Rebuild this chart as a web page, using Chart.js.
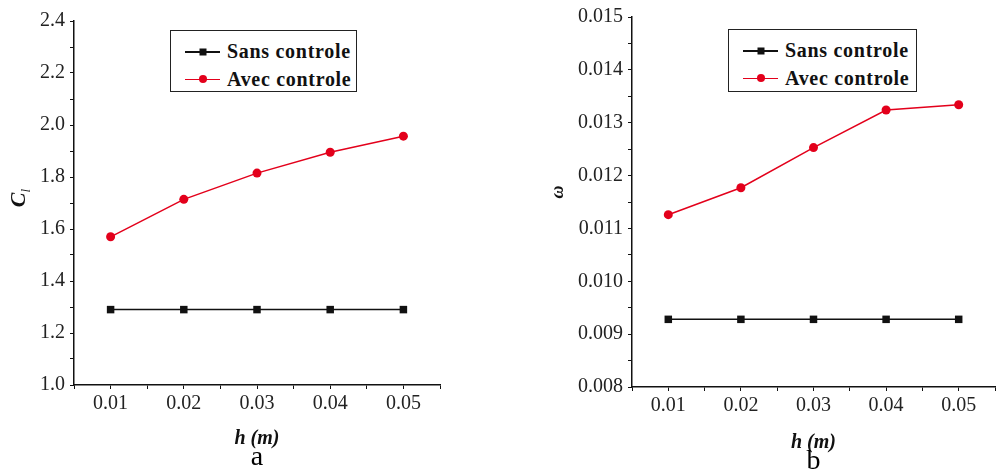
<!DOCTYPE html>
<html>
<head>
<meta charset="utf-8">
<script src="https://cdn.jsdelivr.net/npm/chart.js@4.4.0/dist/chart.umd.min.js"></script>
<style>
  html, body { margin: 0; padding: 0; background: #fff; }
  #wrap { position: relative; width: 998px; height: 472px; overflow: hidden; }
  canvas { position: absolute; top: 0; }
  .legend {
    position: absolute; border: 1.5px solid #222; background: #fff;
    font-family: "Liberation Serif", serif; font-weight: bold; font-size: 20px;
    letter-spacing: 0.7px; color: #111; box-sizing: border-box;
  }
  .legend .row { display: flex; align-items: center; height: 27.5px; }
  .legend .sample { position: relative; width: 35px; height: 1.5px; margin-right: 7px; }
  .legend .mk { position: absolute; left: 50%; top: 50%; transform: translate(-50%, -50%); }
</style>
</head>
<body>
<div id="wrap">
  <canvas id="chartA" width="445" height="472" style="left:0"></canvas>
  <canvas id="chartB" width="458" height="472" style="left:540px"></canvas>
  <div class="legend" id="legA" style="left:170px; top:30px; width:187px; height:62px; padding:7px 0 0 14px"></div>
  <div class="legend" id="legB" style="left:728px; top:29px; width:189px; height:63px; padding:7px 0 0 14px"></div>
</div>
<script>
// h values (m)
const hValues = [0.01, 0.02, 0.03, 0.04, 0.05];

// panel a : lift coefficient
const clSans = [1.29, 1.29, 1.29, 1.29, 1.29];
const clAvec = [1.57, 1.714, 1.815, 1.895, 1.957];

// panel b : omega
const omegaSans = [0.00928, 0.00928, 0.00928, 0.00928, 0.00928];
const omegaAvec = [0.01126, 0.01177, 0.01253, 0.01324, 0.01334];

const seriesNames = ['Sans controle', 'Avec controle'];
const xRange = [0.005, 0.055];
const clRange = [1.0, 2.4];
const omegaRange = [0.008, 0.015];

const SERIF = '"Liberation Serif", "Times New Roman", serif';
const BLACK = '#111';
const RED = '#e3001b';

// rotated y title with optional subscript
const yTitlePlugin = {
  id: 'yTitle',
  afterDraw(chart, args, opts) {
    if (!opts || !opts.text) return;
    const ctx = chart.ctx;
    const cy = (chart.chartArea.top + chart.chartArea.bottom) / 2 + opts.dy;
    ctx.save();
    ctx.translate(opts.x, cy);
    ctx.rotate(-Math.PI / 2);
    ctx.fillStyle = '#111';
    ctx.textBaseline = 'alphabetic';
    ctx.font = opts.font;
    const w = ctx.measureText(opts.text).width;
    let subW = 0;
    if (opts.sub) {
      ctx.font = opts.subFont;
      subW = ctx.measureText(opts.sub).width;
    }
    const x0 = -(w + subW) / 2;
    ctx.font = opts.font;
    ctx.fillText(opts.text, x0, 0);
    if (opts.sub) {
      ctx.font = opts.subFont;
      ctx.fillText(opts.sub, x0 + w, 5);
    }
    ctx.restore();
  }
};

function makeChart(id, sans, avec, yRange, yStep, yFmt, cfg) {
  const toPts = arr => hValues.map((h, i) => ({ x: h, y: arr[i] }));
  return new Chart(document.getElementById(id), {
    type: 'line',
    data: {
      datasets: [
        {
          label: seriesNames[0], data: toPts(sans),
          borderColor: BLACK, backgroundColor: BLACK, borderWidth: 1.5,
          pointStyle: 'rect', pointRadius: 5.3, pointBorderWidth: 0, tension: 0
        },
        {
          label: seriesNames[1], data: toPts(avec),
          borderColor: RED, backgroundColor: RED, borderWidth: 1.5,
          pointStyle: 'circle', pointRadius: 4.5, pointBorderWidth: 0, tension: 0
        }
      ]
    },
    plugins: [yTitlePlugin],
    options: {
      responsive: false,
      animation: false,
      devicePixelRatio: 1,
      layout: { autoPadding: false, padding: { left: 0, right: cfg.padRight, top: cfg.padTop, bottom: 0 } },
      plugins: {
        legend: { display: false },
        tooltip: { enabled: false },
        title: {
          display: true, position: 'bottom', fullSize: false, align: 'center',
          text: cfg.caption, color: '#000',
          font: { family: SERIF, size: 28, weight: 'normal', lineHeight: '18px' },
          padding: { top: 0, bottom: cfg.capPad }
        },
        yTitle: cfg.yTitle
      },
      scales: {
        x: {
          type: 'linear', min: xRange[0], max: xRange[1],
          afterFit: s => { s.height = cfg.xHeight; },
          border: { display: true, color: BLACK, width: 1.5 },
          grid: { drawOnChartArea: false, drawTicks: true, tickLength: 4, color: BLACK, lineWidth: 1 },
          ticks: {
            stepSize: 0.005, autoSkip: false, maxRotation: 0, padding: 3,
            color: '#222', font: { family: SERIF, size: 20 },
            callback: v => (Math.round(v * 1000) % 10 === 0 ? v.toFixed(2) : '')
          },
          title: {
            display: true, text: 'h (m)', color: '#111',
            font: { family: SERIF, size: 20, weight: 'bold', style: 'italic', lineHeight: 0.95 },
            padding: { top: 0, bottom: 0 }
          }
        },
        y: {
          type: 'linear', min: yRange[0], max: yRange[1],
          afterFit: s => { s.width = cfg.yWidth; },
          border: { display: true, color: BLACK, width: 1.5 },
          grid: { drawOnChartArea: false, drawTicks: true, tickLength: 4, color: BLACK, lineWidth: 1 },
          ticks: {
            stepSize: yStep, autoSkip: false, padding: 5,
            color: '#222', font: { family: SERIF, size: 20 },
            callback: yFmt
          }
        }
      }
    }
  });
}

makeChart('chartA', clSans, clAvec, clRange, 0.1,
  v => (Math.round(v * 10) % 2 === 0 ? v.toFixed(1) : ''),
  {
    caption: 'a', capPad: 5.5, xHeight: 63.5, yWidth: 74, padTop: 21, padRight: 5,
    yTitle: { text: 'C', sub: 'l', x: 25, dy: -5, font: 'italic bold 22px ' + SERIF, subFont: 'italic 13px ' + SERIF }
  });

makeChart('chartB', omegaSans, omegaAvec, omegaRange, 0.0005,
  v => (Math.round(v * 10000) % 10 === 0 ? v.toFixed(3) : ''),
  {
    caption: 'b', capPad: 1.4, xHeight: 65.6, yWidth: 92, padTop: 16, padRight: 0,
    yTitle: { text: 'ω', sub: '', x: 23, dy: -10, font: 'italic bold 18px ' + SERIF, subFont: '' }
  });

// html legend boxes
function buildLegend(el) {
  const styles = [
    { color: BLACK, mk: 'width:7px;height:7px;background:' + BLACK },
    { color: RED, mk: 'width:8px;height:8px;border-radius:50%;background:' + RED }
  ];
  seriesNames.forEach((name, i) => {
    const row = document.createElement('div');
    row.className = 'row';
    row.innerHTML = '<span class="sample" style="background:' + styles[i].color + '">' +
      '<span class="mk" style="' + styles[i].mk + '"></span></span><span>' + name + '</span>';
    el.appendChild(row);
  });
}
buildLegend(document.getElementById('legA'));
buildLegend(document.getElementById('legB'));
</script>
</body>
</html>
